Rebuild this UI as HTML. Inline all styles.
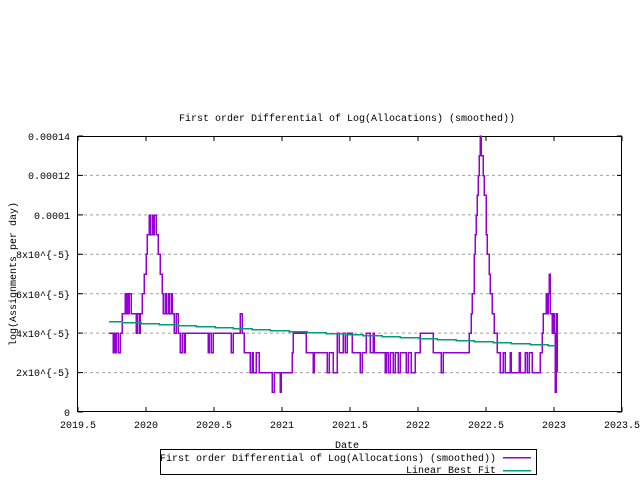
<!DOCTYPE html>
<html><head><meta charset="utf-8"><style>
html,body{margin:0;padding:0;background:#fff;width:640px;height:480px;overflow:hidden}
text{font-family:"Liberation Mono",monospace;font-size:10px;fill:#000}
</style></head><body>
<svg id="s" width="640" height="480" xmlns="http://www.w3.org/2000/svg">
<g stroke="#a0a0a0" stroke-dasharray="3,3" stroke-width="1">
<line x1="78" x2="622" y1="372.6" y2="372.6"/>
<line x1="78" x2="622" y1="333.1" y2="333.1"/>
<line x1="78" x2="622" y1="293.7" y2="293.7"/>
<line x1="78" x2="622" y1="254.3" y2="254.3"/>
<line x1="78" x2="622" y1="214.9" y2="214.9"/>
<line x1="78" x2="622" y1="175.4" y2="175.4"/>
</g>
<g id="ticks" stroke="#000" stroke-width="1"></g>
<rect x="77.5" y="136.5" width="544" height="275" fill="none" stroke="#000"/>
<g text-anchor="end">
<text x="70" y="416">0</text>
<text x="70" y="376">2x10^{-5}</text>
<text x="70" y="337">4x10^{-5}</text>
<text x="70" y="298">6x10^{-5}</text>
<text x="70" y="258">8x10^{-5}</text>
<text x="70" y="219">0.0001</text>
<text x="70" y="179">0.00012</text>
<text x="70" y="140">0.00014</text>
</g>
<g text-anchor="middle">
<text x="78" y="428">2019.5</text>
<text x="146" y="428">2020</text>
<text x="214" y="428">2020.5</text>
<text x="282" y="428">2021</text>
<text x="350" y="428">2021.5</text>
<text x="418" y="428">2022</text>
<text x="486" y="428">2022.5</text>
<text x="554" y="428">2023</text>
<text x="622" y="428">2023.5</text>
<text x="347" y="121">First order Differential of Log(Allocations) (smoothed))</text>
<text x="347" y="448">Date</text>
<text transform="translate(16,274) rotate(-90)">log(Assignments per day)</text>
</g>
<path id="p" fill="none" stroke="#9400d3" stroke-width="1.5" shape-rendering="crispEdges"/>
<path d="M109,321.5 H122 V322.5 H141 V323.5 H159 V324.5 H178 V325.5 H196 V326.5 H215 V327.5 H233 V328.5 H252 V329.5 H270 V330.5 H289 V331.5 H307 V332.5 H326 V333.5 H345 V334.5 H363 V335.5 H382 V336.5 H400 V337.5 H419 V338.5 H437 V339.5 H456 V340.5 H474 V341.5 H493 V342.5 H511 V343.5 H530 V344.5 H548 V345.5 H556" fill="none" stroke="#009e73" stroke-width="1.5" shape-rendering="crispEdges"/>
<rect x="160.5" y="449.5" width="376" height="25" fill="#fff" stroke="#000"/>
<text x="496" y="461" text-anchor="end">First order Differential of Log(Allocations) (smoothed))</text>
<text x="496" y="473" text-anchor="end">Linear Best Fit</text>
<line x1="503" x2="531" y1="457.5" y2="457.5" stroke="#9400d3" stroke-width="1.5" shape-rendering="crispEdges"/>
<line x1="503" x2="531" y1="470.5" y2="470.5" stroke="#009e73" stroke-width="1.5" shape-rendering="crispEdges"/>
</svg>
<script>
var t=document.getElementById('ticks'),h='';
[78,146,214,282,350,418,486,554,622].forEach(function(x){h+='<line x1="'+x+'" x2="'+x+'" y1="412" y2="407"/><line x1="'+x+'" x2="'+x+'" y1="136" y2="141"/>';});
[412,372.6,333.1,293.7,254.3,214.9,175.4,136].forEach(function(y){h+='<line x1="78" x2="83" y1="'+y+'" y2="'+y+'"/><line x1="622" x2="617" y1="'+y+'" y2="'+y+'"/>';});
t.innerHTML=h;
var L=[[109,4],[113,3],[114,4],[115,3],[116,4],[118,3],[120,4],[122,5],[125,6],[126,5],[127,6],[128,5],[129,6],[131,5],[136,4],[137,5],[139,4],[140,5],[142,6],[144,7],[146,8],[147,9],[149,10],[150,9],[152,10],[153,9],[154,10],[155,10],[156,9],[158,8],[160,7],[162,6],[163,5],[165,6],[166,5],[168,6],[169,5],[171,6],[172,5],[174,4],[176,5],[178,4],[180,3],[182,4],[184,3],[185,4],[190,4],[197,4],[208,3],[209,4],[211,3],[213,4],[220,4],[229,4],[231,3],[233,4],[239,4],[240,5],[242,4],[244,3],[248,3],[250,2],[252,3],[253,2],[256,3],[259,2],[270,2],[272,1],[274,2],[280,1],[281,2],[290,2],[292,3],[293,4],[305,4],[306,3],[312,3],[313,2],[314,3],[320,3],[327,2],[329,3],[333,2],[337,4],[339,3],[343,4],[345,3],[347,4],[352,3],[357,3],[360,2],[362,3],[366,4],[370,3],[373,4],[374,3],[381,3],[385,2],[386,3],[388,2],[390,3],[393,2],[395,3],[398,2],[400,3],[403,3],[406,2],[408,3],[411,2],[415,3],[420,4],[427,4],[433,3],[440,3],[441,2],[443,3],[447,3],[466,3],[469,4],[471,5],[472,6],[474,8],[475,9],[476,10],[477,11],[478,12],[479,13],[480,14],[481,13],[483,12],[484,11],[486,9],[487,8],[489,7],[490,6],[492,5],[494,4],[497,3],[500,2],[503,3],[505,2],[507,2],[510,3],[511,2],[517,2],[519,3],[520,2],[525,3],[527,2],[529,3],[532,2],[540,3],[542,4],[543,5],[546,6],[547,5],[548,6],[549,7],[550,5],[552,4],[553,5],[554,4],[555,1],[556,5],[557,2]];
function Y(v){return 412-v*19.7;}
var d='M'+L[0][0]+','+Y(L[0][1]).toFixed(1);
for(var i=1;i<L.length;i++){d+=' H'+L[i][0]+' V'+Y(L[i][1]).toFixed(1);}
document.getElementById('p').setAttribute('d',d);
</script>
</body></html>
